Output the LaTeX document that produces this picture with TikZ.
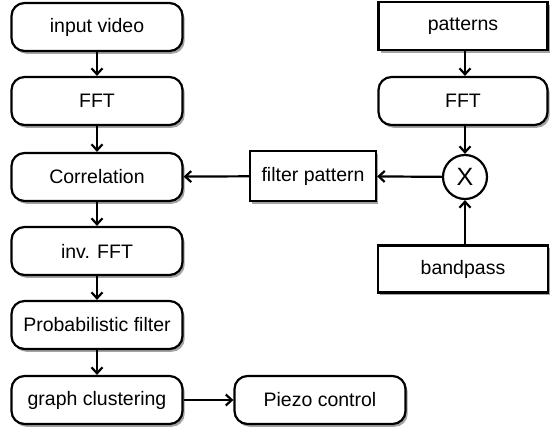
\documentclass[tikz,border=0pt]{standalone}
\usepackage{fontspec}
\setmainfont{Liberation Sans}
\usetikzlibrary{shadows,arrows.meta}

\begin{document}
\begin{tikzpicture} [x=1pt,y=-1pt,>={Straight Barb[length=6pt,width=11pt]},line width=2.2pt,
		font=\fontsize{19.5}{22}\selectfont,
		shadowed/.style={fill=white,drop shadow={shadow xshift=2.2pt,shadow yshift=-2.8pt,fill=black!60,opacity=0.6}},
		step box/.style={shadowed,draw,rounded corners=13pt,minimum width=171pt,minimum height=48pt,inner sep=0pt},
		data box/.style={shadowed,draw,minimum width=169pt,minimum height=48pt,inner sep=0pt},
		mult node/.style={draw,circle,fill=white,minimum size=44pt,inner sep=0pt,font=\fontsize{25}{27}\selectfont}]

	\useasboundingbox (0,0) rectangle (550,432);

	% left chain
	\node [step box] (video) at ( 97,27) {input video};
	\node [step box] (fft-l) at ( 97,101) {FFT};
	\node [step box] (corr) at ( 97,177) {Correlation};
	\node [step box] (ifft) at ( 97,251) {inv. FFT};
	\node [step box] (prob) at ( 97,325) {Probabilistic filter};
	\node [step box] (clust) at ( 97,400) {graph clustering};
	\node [step box] (piezo) at (320,400) {Piezo control};

	% pattern side
	\node [data box] (patt) at (463,26) {patterns};
	\node [step box, minimum width=169pt] (fft-r) at (463,101) {FFT};
	\node [mult node] (mult) at (465,177) {X};
	\node [data box, minimum width=126pt, minimum height=50pt] (filt) at (313,176) {filter pattern};
	\node [data box, minimum width=170pt, minimum height=47pt] (band) at (463,269) {bandpass};

	\draw [->] (video) -- (fft-l);
	\draw [->] (fft-l) -- (corr);
	\draw [->] (corr) -- (ifft);
	\draw [->] (ifft) -- (prob);
	\draw [->] (prob) -- (clust);
	\draw [->] (clust) -- (piezo);

	\draw [->] (patt.south -| mult) -- (fft-r.north -| mult);
	\draw [->] (fft-r.south -| mult) -- (mult);
	\draw [->] (band.north -| mult) -- (mult);
	\draw [->] (mult) -- (filt);
	\draw [->] (filt) -- (corr);
\end{tikzpicture}
\end{document}
